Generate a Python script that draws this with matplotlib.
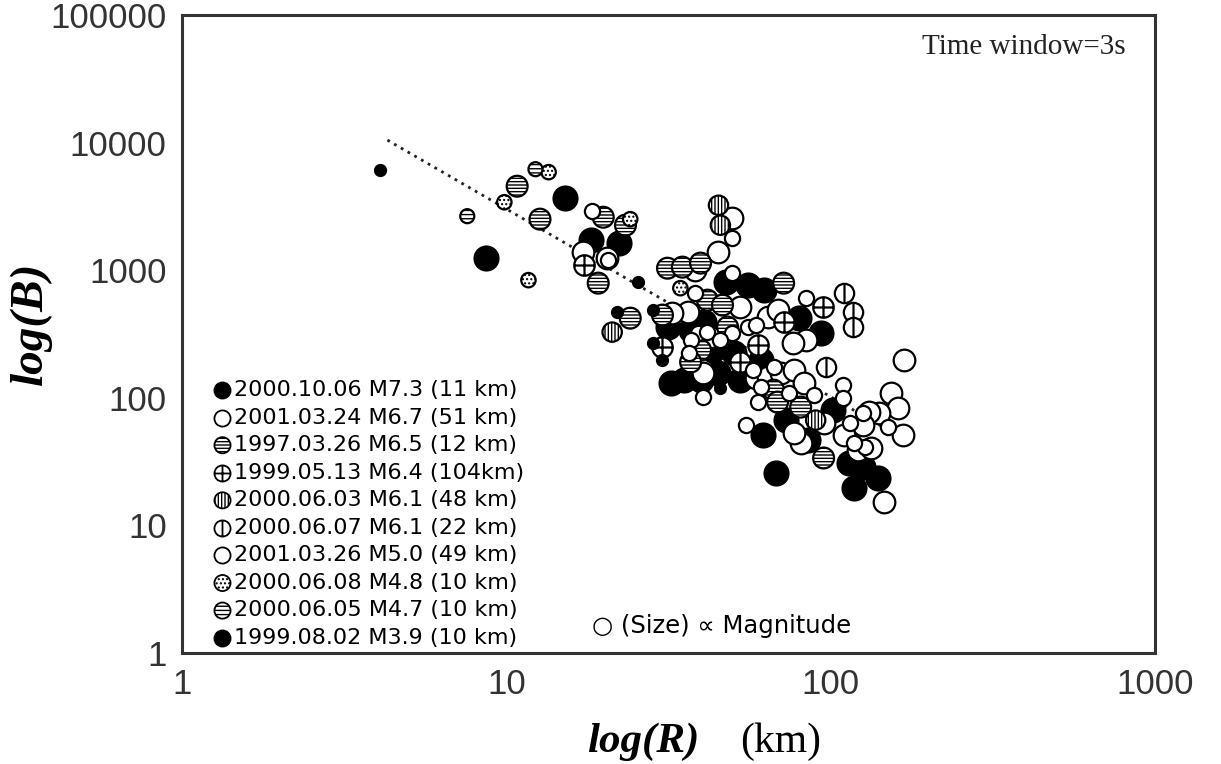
import numpy as np
import matplotlib.pyplot as plt
from matplotlib.path import Path

# epicentral distance R (km) and B values, one pair of lists per event
x_m73 = [15.2, 8.67, 18.2, 22.2, 47.4, 55.5, 62.1, 79.6, 93.1, 40.6, 32.1, 35.2, 39.7,
         44.8, 52.7, 60.8, 72.6, 61.7, 67.6, 102, 114, 126, 140, 118, 84.9, 43.5, 50.2, 31.4,
         37.0, 44.2]
y_m73 = [3680, 1250, 1730, 1630, 808, 765, 700, 422, 322, 393, 131, 138, 138,
         156, 138, 198, 67.0, 51.1, 25.7, 80.2, 30.8, 28.7, 23.5, 19.6, 46.7, 237, 224, 359,
         340, 284]

x_m67 = [17.2, 20.5, 49.8, 44.8, 38.3, 52.7, 40.3, 58.7, 63.9, 70.1, 76.9, 82.5, 168,
         153, 161, 167, 141, 131, 126, 110, 121, 133, 146, 95.1, 80.8, 76.9, 83.7, 76.3,
         63.9, 68.6, 36.2, 32.5, 42.6]
y_m67 = [1390, 1250, 2560, 1390, 1000, 515, 156, 143, 146, 156, 165, 131, 198,
         109, 83.2, 51.1, 76.0, 77.4, 61.2, 51.1, 39.0, 40.4, 15.3, 63.5, 44.2, 53.0, 284, 269,
         430, 488, 470, 462, 299]

x_m65 = [10.8, 12.7, 19.9, 23.3, 19.2, 24.1, 31.4, 34.9, 39.7, 71.6, 41.7, 46.4, 30.3,
         48.1, 39.7, 37.0, 66.7, 68.6, 80.8, 95.1]
y_m65 = [4570, 2520, 2610, 2260, 794, 422, 1040, 1060, 1140, 794, 584, 534, 446,
         359, 237, 191, 115, 92.7, 84.7, 33.8]

x_m64 = [17.3, 94.5, 71.6, 30.3, 52.7, 59.5]
y_m64 = [1100, 515, 393, 250, 191, 259]

x_m61a = [45.1, 45.7, 21.2, 89.9]
y_m61a = [3240, 2260, 328, 67.0]

x_m61b = [110, 96.5, 117, 117]
y_m61b = [663, 174, 470, 359]

x_m50 = [18.4, 49.8, 49.8, 38.3, 83.7, 38.9, 41.7, 49.8, 55.5, 58.7, 37.0, 36.5, 45.7,
         57.8, 66.7, 40.3, 60.8, 59.5, 88.6, 74.2, 54.7, 109, 109, 115, 126, 128, 118, 150, 20.6]
y_m50 = [2910, 1790, 951, 663, 606, 322, 328, 322, 359, 372, 284, 224, 284,
         165, 174, 101, 122, 92.7, 105, 109, 61.2, 126, 99.6, 63.5, 76.0, 41.1, 44.2, 59.0, 1200]

x_m48 = [13.5, 9.86, 11.7, 24.1, 34.4]
y_m48 = [5890, 3420, 838, 2520, 725]

x_m47 = [12.3, 7.58]
y_m47 = [6210, 2660]

x_m39 = [4.08, 25.5, 22.0, 28.4, 45.7, 28.4, 30.3]
y_m39 = [6100, 808, 470, 488, 119, 269, 198]

labels = ['2000.10.06 M7.3 (11 km)', '2001.03.24 M6.7 (51 km)', '1997.03.26 M6.5 (12 km)',
          '1999.05.13 M6.4 (104km)', '2000.06.03 M6.1 (48 km)', '2000.06.07 M6.1 (22 km)',
          '2001.03.26 M5.0 (49 km)', '2000.06.08 M4.8 (10 km)', '2000.06.05 M4.7 (10 km)',
          '1999.08.02 M3.9 (10 km)']
mags = [7.3, 6.7, 6.5, 6.4, 6.1, 6.1, 5.0, 4.8, 4.7, 3.9]

# attenuation trend (dotted)
fit_x = [4.3, 170]
fit_y = [10500, 46.7]

xs = [x_m73, x_m67, x_m65, x_m64, x_m61a, x_m61b, x_m50, x_m48, x_m47, x_m39]
ys = [y_m73, y_m67, y_m65, y_m64, y_m61a, y_m61b, y_m50, y_m48, y_m47, y_m39]

cross = Path.make_compound_path(Path.unit_circle(), Path([[-1, 0], [1, 0]]), Path([[0, -1], [0, 1]]))
vline = Path.make_compound_path(Path.unit_circle(), Path([[0, -1], [0, 1]]))

# (face, marker, hatch) per event
styles = [('black', 'o', None), ('white', 'o', None), ('white', 'o', '-----'),
          ('white', cross, None), ('white', 'o', '|||||'), ('white', vline, None),
          ('white', 'o', None), ('white', 'o', '....'), ('white', 'o', '----'),
          ('black', 'o', None)]

plt.rcParams['hatch.linewidth'] = 1.0
fig = plt.figure(figsize=(12.21, 7.64), dpi=100)
ax = fig.add_axes([0.149, 0.1453, 0.797, 0.8347])

ax.plot(fit_x, fit_y, linestyle=(0, (1, 1.8)), color='#222222', lw=2.0, zorder=1)

handles = []
for x, y, m, lab, (fc, mk, ht) in zip(xs, ys, mags, labels, styles):
    d = (11 + (m - 3.9) * 3.8) * 0.72
    ax.scatter(x, y, s=d ** 2, marker=mk, facecolor=fc, edgecolor='black',
               hatch=ht, linewidths=1.6, zorder=2)
    handles.append(ax.scatter([], [], s=135, marker=mk, facecolor=fc, edgecolor='black',
                              hatch=ht, linewidths=1.3, label=lab))

ax.set_xscale('log')
ax.set_yscale('log')
ax.set_xlim(1, 1000)
ax.set_ylim(1, 100000)
ax.set_xticks([1, 10, 100, 1000])
ax.set_xticklabels(['1', '10', '100', '1000'])
ax.set_yticks([1, 10, 100, 1000, 10000, 100000])
ax.set_yticklabels(['1', '10', '100', '1000', '10000', '100000'])
ax.minorticks_off()
ax.tick_params(length=0, pad=11, labelsize=25, labelcolor='#333333')
for lab in ax.get_xticklabels() + ax.get_yticklabels():
    lab.set_family('Liberation Sans')
for sp in ax.spines.values():
    sp.set_color('#333333')
    sp.set_linewidth(2.2)

leg = ax.legend(handles=handles, loc='lower left', bbox_to_anchor=(0.012, -0.02),
                frameon=False, fontsize=16, labelspacing=0.34, handletextpad=0.0,
                handlelength=1.0, borderpad=0.3)

ax.text(0.421, 0.042, '○ (Size) ∝ Magnitude', transform=ax.transAxes,
        fontsize=17.5, ha='left', va='center')
ax.text(0.97, 0.95, 'Time window=3s', transform=ax.transAxes, family='Liberation Serif',
        fontsize=21, ha='right', va='center', color='#222222')

fig.text(0.025, 0.577, 'log(B)', rotation=90, family='Liberation Serif', style='italic',
         weight='bold', fontsize=34, ha='center', va='center')
fig.text(0.573, 0.029, 'log(R)', family='Liberation Serif', style='italic',
         weight='bold', fontsize=31, ha='right', va='center')
fig.text(0.606, 0.029, '(km)', family='Liberation Serif', fontsize=30,
         ha='left', va='center')

fig.savefig('out.png', dpi=100, facecolor='white')
